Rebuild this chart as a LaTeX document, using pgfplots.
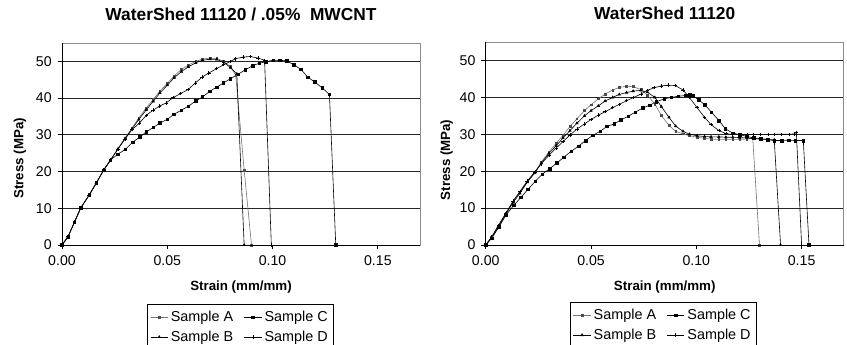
\documentclass[border=0pt]{standalone}
\usepackage{fontspec}
\setmainfont{Liberation Sans}
\usepackage{pgfplots}
\pgfplotsset{compat=1.18}
\pgfplotsset{
  ssbase/.style={
    scale only axis, width=268.5pt,
    xmin=0, xmax=0.17, ymin=0, ymax=55,
    xtick={0,0.05,0.1,0.15}, ytick={0,10,20,30,40,50},
    xtick pos=left, ytick pos=left,
    tick align=outside, major tick length=3.2pt,
    tick style={black, line width=0.6pt},
    /pgf/number format/assume math mode=true,
    xticklabel style={/pgf/number format/fixed, /pgf/number format/fixed zerofill, /pgf/number format/precision=2, yshift=-1.5pt},
    ticklabel style={font=\fontsize{10.6}{12}\selectfont},
    yticklabel style={xshift=-1pt},
    ymajorgrids, grid style={black!85, line width=0.65pt},
    axis line style={black!45, line width=0.6pt},
    title style={font=\bfseries\fontsize{13}{15}\selectfont, anchor=center},
    xlabel={Strain (mm/mm)}, ylabel={Stress (MPa)},
    label style={font=\bfseries\fontsize{10}{12}\selectfont},
    legend columns=2, legend cell align=left,
    legend style={anchor=north west, draw=black, line width=0.6pt, font=\fontsize{10.8}{12}\selectfont,
      inner xsep=2pt, inner ysep=3pt, row sep=1.5pt, /tikz/every even column/.append style={column sep=6pt}},
    legend image code/.code={\draw[mark repeat=2,mark phase=2,#1] plot coordinates {(0pt,0pt) (6.5pt,0pt) (13pt,0pt)};},
    after end axis/.code={\draw[black, line width=0.65pt] (rel axis cs:0,1) -- (rel axis cs:0,0) -- (rel axis cs:1,0);},
  },
  sA/.style={black!55, line width=0.45pt, mark=square*, mark size=0.65pt, mark options={black!70}},
  sB/.style={black, line width=0.45pt, mark=triangle*, mark size=1.0pt},
  sC/.style={black, line width=0.45pt, mark=square*, mark size=0.95pt},
  sD/.style={black, line width=0.45pt, mark=+, mark size=1.3pt},
}
\begin{document}
\begin{tikzpicture}
\useasboundingbox (0,0) rectangle (635.25pt,258.75pt);
% ---------------- left chart ----------------
\begin{axis}[ssbase, height=151.5pt, at={(46.5pt,75pt)}, anchor=south west,
  title={WaterShed 11120 / .05\%\ \ MWCNT},
  title style={at={(axis description cs:0.5,1.1)}},
  xlabel style={at={(axis description cs:0.5,-0.21)}, anchor=center},
  ylabel style={at={(axis description cs:-0.1176,0.43)}, anchor=center},
  legend style={at={(axis description cs:0.238,-0.292)}},
]
\addplot[sA] coordinates {(0,0) (0.0029,2.3) (0.0059,6.2) (0.0089,10.1) (0.0129,13.6) (0.0163,16.9) (0.0198,20.4) (0.023,23.1) (0.0265,26.1) (0.030,29.2) (0.0333,31.9) (0.0365,34.6) (0.040,37.3) (0.0433,39.6) (0.0465,41.9) (0.050,44.0) (0.0532,46.0) (0.0567,47.8) (0.060,49.0) (0.0635,50.0) (0.0667,50.6) (0.0703,50.9) (0.0735,50.8) (0.0767,50.0) (0.080,48.6) (0.0825,46.2) (0.0865,20.4) (0.090,0)};
\addlegendentry{Sample A}
\addplot[sC] coordinates {(0,0) (0.0029,2.3) (0.0059,6.2) (0.0089,10.1) (0.0129,13.6) (0.0163,16.9) (0.0198,20.4) (0.023,23.1) (0.0265,24.7) (0.030,26.0) (0.0335,28.0) (0.037,29.4) (0.040,30.8) (0.0433,32.0) (0.0465,33.2) (0.050,34.2) (0.0532,35.6) (0.0567,36.7) (0.060,37.8) (0.0635,39.2) (0.0667,40.3) (0.0703,41.9) (0.0735,43.0) (0.0767,44.1) (0.080,45.3) (0.0837,46.5) (0.087,47.7) (0.0905,48.8) (0.0937,49.5) (0.0968,49.9) (0.1003,50.3) (0.1035,50.3) (0.1068,50.1) (0.110,49.1) (0.1135,47.8) (0.1167,45.7) (0.120,44.4) (0.1235,42.8) (0.127,41.0) (0.130,0)};
\addlegendentry{Sample C}
\addplot[sB] coordinates {(0,0) (0.0029,2.3) (0.0059,6.2) (0.0089,10.1) (0.0129,13.6) (0.0163,16.9) (0.0198,20.4) (0.023,23.1) (0.0265,26.1) (0.030,29.0) (0.0333,31.6) (0.0365,34.2) (0.040,36.8) (0.0433,39.1) (0.0465,41.4) (0.050,43.5) (0.0532,45.5) (0.0567,47.2) (0.060,48.5) (0.0635,49.6) (0.0667,50.3) (0.0703,50.6) (0.0735,50.5) (0.0767,49.8) (0.080,48.3) (0.083,46.6) (0.0865,0)};
\addlegendentry{Sample B}
\addplot[sD] coordinates {(0,0) (0.0029,2.3) (0.0059,6.2) (0.0089,10.1) (0.0129,13.6) (0.0163,16.9) (0.0198,20.4) (0.023,23.1) (0.0265,26.1) (0.030,28.9) (0.0332,31.4) (0.0368,33.2) (0.040,35.3) (0.0432,36.7) (0.0463,37.8) (0.0495,38.7) (0.0527,40.1) (0.0562,41.2) (0.0598,42.3) (0.0633,44.1) (0.0665,45.7) (0.0697,46.8) (0.0733,48.0) (0.0768,49.1) (0.080,50.0) (0.0824,50.7) (0.086,51.2) (0.0895,51.3) (0.093,50.9) (0.0962,50.3) (0.0994,0)};
\addlegendentry{Sample D}
\end{axis}
% ---------------- right chart ----------------
\begin{axis}[ssbase, height=152.25pt, at={(364.3pt,75pt)}, anchor=south west,
  title={WaterShed 11120},
  title style={at={(axis description cs:0.5,1.103)}},
  xlabel style={at={(axis description cs:0.5,-0.209)}, anchor=center},
  ylabel style={at={(axis description cs:-0.109,0.419)}, anchor=center},
  legend style={at={(axis description cs:0.2355,-0.281)}},
]
\addplot[sA] coordinates {(0,0) (0.0028,2.1) (0.006,5.1) (0.0096,8.5) (0.013,11.7) (0.0162,14.2) (0.0197,17.1) (0.0233,19.6) (0.0264,22.5) (0.030,25.2) (0.0335,27.6) (0.0367,29.7) (0.040,32.1) (0.0433,34.2) (0.0469,36.4) (0.050,38.0) (0.0535,39.6) (0.0567,40.9) (0.0603,42.0) (0.0634,42.7) (0.0669,43.0) (0.070,42.9) (0.0737,42.1) (0.0768,40.6) (0.0803,38.2) (0.0834,35.1) (0.087,32.4) (0.0902,30.8) (0.0937,30.1) (0.0968,29.6) (0.1004,29.2) (0.1039,28.9) (0.107,28.7) (0.1107,28.6) (0.114,28.6) (0.1173,28.6) (0.1206,28.6) (0.124,28.7) (0.1268,28.8) (0.130,0)};
\addlegendentry{Sample A}
\addplot[sC] coordinates {(0,0) (0.0028,1.8) (0.0063,4.9) (0.0096,8.1) (0.0134,10.8) (0.0167,12.9) (0.0201,15.1) (0.0236,17.3) (0.0269,19.2) (0.0304,20.7) (0.0338,22.2) (0.0371,23.8) (0.0406,25.4) (0.0441,26.8) (0.0474,28.3) (0.0508,29.7) (0.0543,30.8) (0.0575,32.1) (0.061,32.8) (0.0642,33.9) (0.0677,34.9) (0.071,36.0) (0.0745,37.1) (0.0779,37.9) (0.0811,38.8) (0.0847,39.6) (0.0881,40.0) (0.0915,40.3) (0.0949,40.5) (0.0968,40.7) (0.0985,40.4) (0.1012,39.3) (0.104,38.0) (0.1072,36.0) (0.1107,33.7) (0.1138,31.5) (0.1173,30.3) (0.1206,29.9) (0.124,29.4) (0.1272,29.0) (0.1306,28.8) (0.134,28.5) (0.1371,28.3) (0.1405,28.3) (0.1438,28.4) (0.147,28.3) (0.1508,28.3) (0.1535,0)};
\addlegendentry{Sample C}
\addplot[sB] coordinates {(0,0) (0.0028,2.0) (0.006,5.0) (0.0096,8.4) (0.013,11.5) (0.0162,14.0) (0.0197,17.0) (0.0233,19.5) (0.0264,22.2) (0.030,24.8) (0.0335,26.9) (0.0367,29.0) (0.040,31.0) (0.0433,33.0) (0.0469,35.0) (0.050,36.4) (0.0535,37.7) (0.0567,39.0) (0.0603,40.0) (0.0634,40.8) (0.0669,41.3) (0.070,41.7) (0.0737,41.9) (0.0768,41.4) (0.0803,40.0) (0.0834,37.5) (0.087,34.6) (0.0902,32.2) (0.0937,30.8) (0.0968,30.0) (0.1004,29.6) (0.1039,29.4) (0.107,29.3) (0.1107,29.3) (0.114,29.2) (0.1173,29.2) (0.1206,29.1) (0.124,29.0) (0.1272,28.8) (0.1306,28.7) (0.134,28.6) (0.137,28.5) (0.140,0)};
\addlegendentry{Sample B}
\addplot[sD] coordinates {(0,0) (0.0028,2.2) (0.006,5.3) (0.0096,8.7) (0.013,11.9) (0.0162,14.5) (0.0197,17.3) (0.0233,19.8) (0.0264,22.0) (0.030,24.3) (0.0335,26.3) (0.0367,28.0) (0.040,29.8) (0.0433,31.4) (0.0469,32.8) (0.050,34.0) (0.0535,35.2) (0.0567,36.1) (0.0603,37.2) (0.0634,38.1) (0.0669,39.1) (0.070,39.9) (0.0737,40.9) (0.0768,41.9) (0.080,42.6) (0.0834,43.1) (0.0865,43.3) (0.090,43.2) (0.0937,42.0) (0.0968,39.9) (0.1004,37.2) (0.1039,34.6) (0.107,32.6) (0.1107,31.0) (0.114,30.2) (0.1173,29.9) (0.1206,29.9) (0.124,29.9) (0.1272,29.9) (0.1306,29.9) (0.134,29.9) (0.137,30.0) (0.1405,30.0) (0.144,30.0) (0.1465,30.1) (0.1475,30.5) (0.150,0)};
\addlegendentry{Sample D}
\end{axis}
\end{tikzpicture}
\end{document}
